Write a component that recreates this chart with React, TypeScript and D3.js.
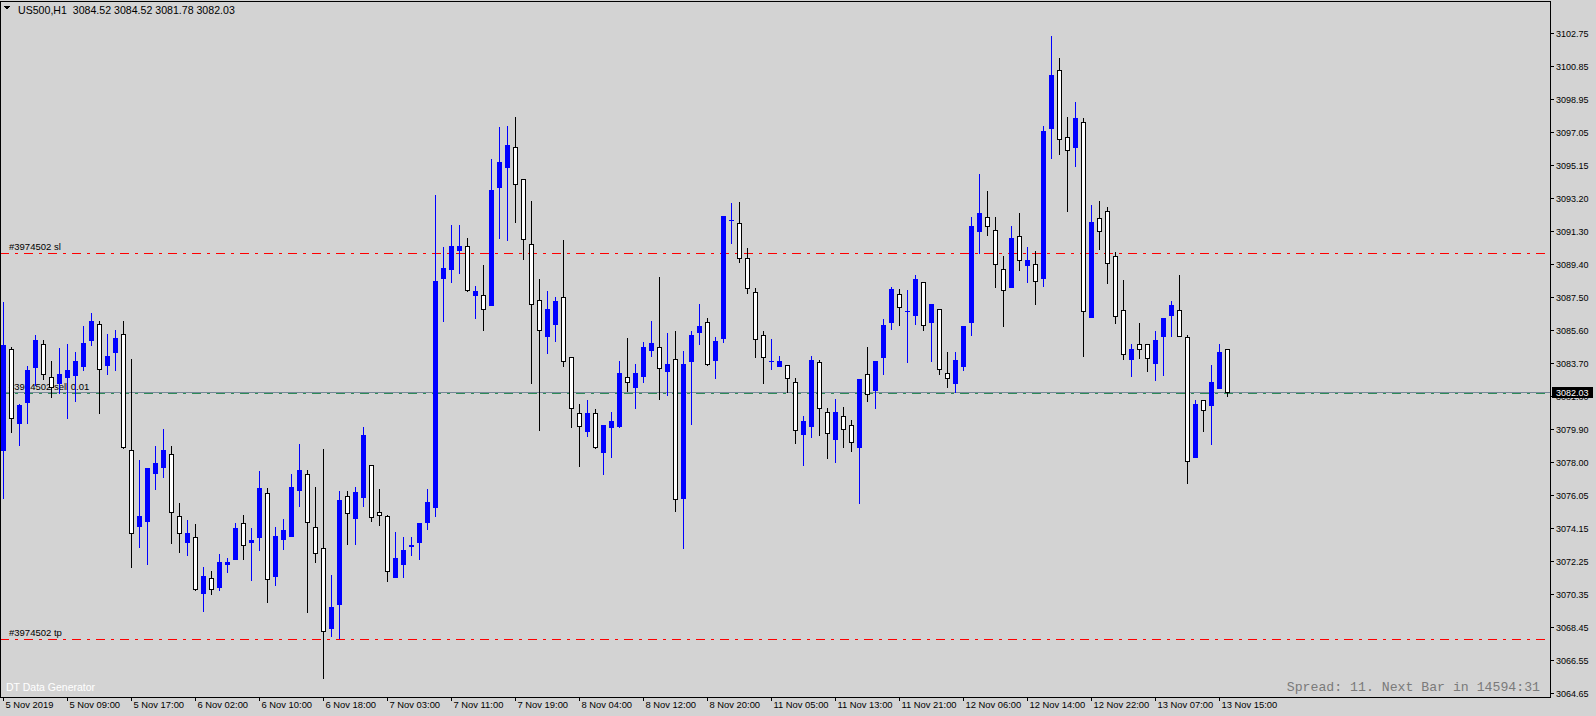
import React from "react";
import * as d3 from "d3";

const W = 1596;
const H = 716;

// ---- data (US500, H1) ----
const opens = [
  3078.67, 3084.48, 3080.24, 3081.46, 3083.44, 3084.79, 3082.87, 3082.52, 3082.90, 3083.00,
  3083.52, 3085.02, 3085.94, 3083.59, 3084.35, 3085.37, 3078.67, 3074.30, 3074.59, 3077.36,
  3077.66, 3078.44, 3074.86, 3073.37, 3073.63, 3070.40, 3071.26, 3070.78, 3072.11, 3072.39,
  3074.44, 3073.36, 3073.66, 3076.17, 3071.41, 3073.55, 3073.72, 3076.38, 3077.28, 3074.22,
  3072.99, 3068.41, 3069.79, 3076.00, 3074.76, 3075.97, 3077.79, 3075.07, 3074.84, 3071.35,
  3072.11, 3073.13, 3073.37, 3074.53, 3075.39, 3088.62, 3089.14, 3090.23, 3090.45, 3087.64,
  3087.60, 3087.06, 3093.87, 3095.03, 3096.15, 3094.30, 3090.55, 3087.31, 3085.27, 3085.96,
  3087.48, 3084.02, 3080.79, 3079.78, 3080.79, 3078.57, 3079.98, 3080.05, 3082.87, 3082.32,
  3082.96, 3084.46, 3084.60, 3083.25, 3083.91, 3075.91, 3083.82, 3085.50, 3086.04, 3083.88,
  3085.15, 3091.92, 3091.76, 3089.75, 3087.77, 3085.29, 3083.80, 3083.54, 3083.56, 3082.58,
  3079.58, 3080.07, 3083.73, 3080.85, 3079.32, 3080.61, 3080.09, 3078.86, 3083.04, 3082.13,
  3084.06, 3086.08, 3087.66, 3086.67, 3086.48, 3088.35, 3086.08, 3086.79, 3083.10, 3082.55,
  3083.54, 3086.08, 3091.33, 3092.10, 3091.35, 3089.10, 3088.10, 3091.01, 3089.37, 3089.39,
  3088.62, 3097.28, 3100.59, 3096.72, 3096.18, 3097.59, 3086.36, 3092.05, 3092.45, 3089.87,
  3086.75, 3083.92, 3084.77, 3084.77, 3083.69, 3085.25, 3086.46, 3086.73, 3085.18, 3078.28,
  3081.54, 3081.28, 3082.27, 3084.52,
];
const highs = [
  3087.23, 3084.62, 3081.30, 3083.52, 3085.31, 3085.02, 3083.81, 3084.54, 3084.79, 3084.35,
  3085.85, 3086.60, 3086.10, 3085.37, 3085.60, 3086.12, 3083.92, 3078.09, 3077.65, 3078.90,
  3079.88, 3078.90, 3075.59, 3074.63, 3074.40, 3071.91, 3071.68, 3072.66, 3072.43, 3074.44,
  3074.92, 3074.16, 3077.46, 3076.47, 3074.24, 3074.68, 3077.28, 3079.02, 3077.51, 3076.53,
  3078.73, 3071.45, 3076.30, 3076.30, 3076.51, 3080.00, 3077.80, 3076.42, 3074.92, 3073.93,
  3073.65, 3073.65, 3074.47, 3076.42, 3093.39, 3090.39, 3091.66, 3091.66, 3090.91, 3088.14,
  3089.35, 3095.47, 3097.32, 3097.38, 3097.90, 3094.32, 3093.04, 3088.54, 3087.85, 3087.50,
  3090.79, 3084.04, 3081.32, 3081.56, 3081.04, 3080.13, 3080.86, 3083.81, 3085.14, 3083.63,
  3084.90, 3086.12, 3088.66, 3085.42, 3085.54, 3084.38, 3085.54, 3087.10, 3086.29, 3085.18,
  3092.20, 3092.93, 3093.00, 3090.33, 3088.00, 3085.52, 3085.08, 3084.10, 3083.58, 3082.81,
  3080.63, 3084.10, 3083.87, 3081.08, 3081.61, 3081.15, 3080.38, 3082.77, 3084.60, 3083.83,
  3086.23, 3088.08, 3087.96, 3087.91, 3088.77, 3088.37, 3087.12, 3086.81, 3084.33, 3084.33,
  3085.85, 3092.12, 3094.60, 3093.62, 3092.10, 3089.87, 3091.60, 3092.33, 3090.39, 3090.14,
  3097.38, 3102.57, 3101.30, 3097.88, 3098.76, 3097.84, 3092.81, 3093.04, 3092.70, 3090.10,
  3088.48, 3084.79, 3086.00, 3084.79, 3085.56, 3086.29, 3087.27, 3088.77, 3085.29, 3081.56,
  3081.56, 3083.58, 3084.79, 3084.52,
];
const lows = [
  3075.90, 3079.72, 3078.96, 3080.24, 3082.42, 3082.75, 3081.75, 3081.94, 3080.53, 3081.51,
  3083.29, 3084.73, 3080.82, 3083.06, 3083.29, 3078.80, 3071.93, 3073.09, 3072.11, 3076.43,
  3077.13, 3073.32, 3072.80, 3072.62, 3070.60, 3069.39, 3070.37, 3070.59, 3071.64, 3072.37,
  3072.39, 3071.18, 3072.91, 3069.91, 3070.87, 3072.95, 3073.70, 3075.44, 3069.30, 3072.20,
  3065.49, 3067.95, 3067.83, 3073.26, 3073.26, 3075.44, 3074.59, 3074.34, 3071.12, 3071.33,
  3071.35, 3072.62, 3072.39, 3074.12, 3074.86, 3086.13, 3088.39, 3088.91, 3087.87, 3086.29,
  3085.62, 3087.04, 3090.93, 3090.79, 3091.85, 3089.71, 3082.55, 3079.84, 3084.29, 3084.98,
  3083.54, 3080.01, 3077.76, 3079.49, 3078.80, 3077.30, 3078.28, 3080.00, 3082.06, 3081.11,
  3082.61, 3084.11, 3081.63, 3081.86, 3075.16, 3073.03, 3080.19, 3084.81, 3083.60, 3082.84,
  3084.90, 3090.64, 3089.52, 3087.75, 3084.02, 3082.52, 3083.33, 3083.52, 3082.03, 3079.06,
  3077.82, 3079.44, 3079.55, 3078.22, 3077.99, 3078.86, 3078.63, 3075.63, 3081.51, 3081.11,
  3083.07, 3085.67, 3085.90, 3083.77, 3085.96, 3085.62, 3083.82, 3083.07, 3082.32, 3082.03,
  3083.29, 3085.33, 3090.03, 3091.10, 3088.10, 3085.85, 3088.08, 3089.08, 3088.39, 3087.12,
  3088.15, 3095.54, 3095.76, 3092.49, 3095.08, 3084.11, 3086.34, 3090.29, 3088.33, 3085.98,
  3083.92, 3082.94, 3084.00, 3083.23, 3082.71, 3083.00, 3085.25, 3085.25, 3076.78, 3078.26,
  3079.78, 3079.03, 3082.25, 3081.78,
];
const closes = [
  3084.73, 3080.50, 3081.27, 3083.29, 3085.02, 3083.04, 3082.29, 3083.06, 3083.29, 3083.81,
  3084.86, 3086.12, 3083.33, 3084.10, 3085.14, 3078.83, 3073.88, 3074.86, 3077.63, 3077.92,
  3078.67, 3075.07, 3073.88, 3073.90, 3070.63, 3071.39, 3070.63, 3072.20, 3072.22, 3074.16,
  3073.17, 3073.47, 3076.49, 3071.20, 3073.70, 3074.05, 3076.51, 3077.51, 3074.49, 3072.70,
  3068.20, 3069.60, 3075.78, 3075.01, 3076.24, 3079.53, 3074.82, 3074.90, 3071.67, 3072.42,
  3072.89, 3073.17, 3074.45, 3075.67, 3088.43, 3089.18, 3090.45, 3090.45, 3087.89, 3087.85,
  3086.83, 3093.68, 3095.30, 3096.28, 3094.01, 3090.83, 3087.08, 3085.58, 3086.81, 3087.27,
  3083.79, 3081.08, 3080.04, 3080.79, 3078.82, 3080.11, 3080.34, 3083.11, 3082.58, 3083.11,
  3084.62, 3084.85, 3083.39, 3083.63, 3075.82, 3083.63, 3085.31, 3085.83, 3083.62, 3084.94,
  3092.18, 3091.94, 3089.74, 3088.00, 3085.06, 3084.02, 3083.82, 3083.81, 3082.81, 3079.81,
  3080.34, 3083.87, 3081.08, 3079.63, 3080.85, 3079.86, 3079.11, 3082.75, 3081.88, 3083.81,
  3085.89, 3087.96, 3086.91, 3086.70, 3088.54, 3085.87, 3087.10, 3083.33, 3082.81, 3083.87,
  3085.83, 3091.60, 3092.35, 3091.58, 3089.39, 3087.88, 3090.91, 3089.62, 3089.64, 3088.41,
  3097.09, 3100.32, 3096.61, 3095.97, 3097.84, 3086.68, 3091.83, 3091.30, 3089.45, 3086.42,
  3084.23, 3084.50, 3084.48, 3084.00, 3085.02, 3086.27, 3087.04, 3085.27, 3078.05, 3081.32,
  3081.00, 3082.59, 3084.33, 3082.03,
];

const priceTickLabels = [
  "3102.75", "3100.85", "3098.95", "3097.05", "3095.15", "3093.20", "3091.30", "3089.40",
  "3087.50", "3085.60", "3083.70", "3081.80", "3079.90", "3078.00", "3076.05", "3074.15",
  "3072.25", "3070.35", "3068.45", "3066.55", "3064.65",
];

const timeTickLabels = [
  "5 Nov 2019", "5 Nov 09:00", "5 Nov 17:00", "6 Nov 02:00", "6 Nov 10:00", "6 Nov 18:00",
  "7 Nov 03:00", "7 Nov 11:00", "7 Nov 19:00", "8 Nov 04:00", "8 Nov 12:00", "8 Nov 20:00",
  "11 Nov 05:00", "11 Nov 13:00", "11 Nov 21:00", "12 Nov 06:00", "12 Nov 14:00",
  "12 Nov 22:00", "13 Nov 07:00", "13 Nov 15:00",
];
const timeTickBars = [0, 8, 16, 24, 32, 40, 48, 56, 64, 72, 80, 88, 96, 104, 112, 120, 128, 136, 144, 152];

const symbolTitle = "US500,H1  3084.52 3084.52 3081.78 3082.03";
const bidPrice = 3082.03;
const orderOpen = 3081.95;
const slPrice = 3090.04;
const tpPrice = 3067.74;
const orderLabel = "#3974502 sell 0.01";
const slLabel = "#3974502 sl";
const tpLabel = "#3974502 tp";
const spreadText = "Spread: 11. Next Bar in 14594:31";
const brandText = "DT Data Generator";

// ---- style ----
const BG = "#d3d3d3";
const BULL = "#0000ff";
const FONT = "'Liberation Sans', Arial, sans-serif";

export default function App() {
  const plotRight = 1550;
  const plotTop = 1;
  const plotBottom = 697;

  const y = d3.scaleLinear().domain([3064.65, 3102.75]).range([692.7, 32.9]);
  const x = d3.scaleLinear().domain([0, 1]).range([3, 11]);

  const py = (v: number) => Math.round(y(v));

  const candles = opens.map((o, i) => {
    const c = closes[i];
    const hi = highs[i];
    const lo = lows[i];
    const col = Math.round(x(i));
    const bull = c >= o;
    const top = py(Math.max(o, c));
    const bot = py(Math.min(o, c));
    const wick = (
      <line
        key={`w${i}`}
        x1={col + 0.5}
        x2={col + 0.5}
        y1={py(hi)}
        y2={py(lo) + 1}
        stroke={bull ? BULL : "#000"}
        strokeWidth={1}
      />
    );
    const body = bull ? (
      <rect key={`b${i}`} x={col - 2} y={top} width={5} height={Math.max(bot - top + 1, 1)} fill={BULL} />
    ) : (
      <rect
        key={`b${i}`}
        x={col - 1.5}
        y={top + 0.5}
        width={4}
        height={Math.max(bot - top, 1)}
        fill="#fff"
        stroke="#000"
        strokeWidth={1}
      />
    );
    return (
      <g key={i}>
        {wick}
        {body}
      </g>
    );
  });

  const bidY = py(bidPrice) + 0.5;
  const orderY = py(orderOpen) + 0.5;
  const slY = py(slPrice) + 0.5;
  const tpY = py(tpPrice) + 0.5;

  return (
    <svg
      width={W}
      height={H}
      style={{ position: "absolute", left: 0, top: 0, display: "block" }}
      shapeRendering="crispEdges"
    >
      <rect x={0} y={0} width={W} height={H} fill={BG} />

      {/* trade level labels (behind candles) */}
      <g fontFamily={FONT} fontSize={9.5} fill="#000">
        <text x={9} y={slY - 4}>{slLabel}</text>
        <text x={9} y={orderY - 4}>{orderLabel}</text>
        <text x={9} y={tpY - 4}>{tpLabel}</text>
      </g>

      {/* level lines */}
      <line x1={0} x2={plotRight} y1={slY} y2={slY} stroke="#ff0000" strokeDasharray="9,6,3,6" />
      <line x1={0} x2={plotRight} y1={tpY} y2={tpY} stroke="#ff0000" strokeDasharray="9,6,3,6" />
      <line x1={0} x2={plotRight} y1={orderY} y2={orderY} stroke="#2e8b57" strokeDasharray="9,6,3,6" />
      <line x1={0} x2={plotRight} y1={bidY} y2={bidY} stroke="#778899" />

      {/* candles */}
      <g>{candles}</g>

      {/* texts inside plot */}
      <text x={6} y={691} fontFamily={FONT} fontSize={10.5} fill="#fff">{brandText}</text>
      <text
        x={1540}
        y={691}
        textAnchor="end"
        fontFamily="'Liberation Mono', 'Courier New', monospace"
        fontSize={13.2}
        fill="#7a7a7a"
        style={{ whiteSpace: "pre" }}
      >
        {spreadText}
      </text>

      {/* frame */}
      <rect
        x={0.5}
        y={plotTop + 0.5}
        width={plotRight - 0.5}
        height={plotBottom - plotTop}
        fill="none"
        stroke="#000"
      />

      {/* header */}
      <path d="M4,6 L10,6 L7,10 Z" fill="#000" />
      <text x={18} y={14} fontFamily={FONT} fontSize={10.6} fill="#000" style={{ whiteSpace: "pre" }}>
        {symbolTitle}
      </text>

      {/* price axis */}
      <g fontFamily={FONT} fontSize={9} fill="#000">
        {priceTickLabels.map((t) => {
          const yy = py(+t) + 0.5;
          return (
            <g key={t}>
              <line x1={plotRight} x2={plotRight + 4} y1={yy} y2={yy} stroke="#000" />
              <text x={plotRight + 6} y={yy + 3.5}>{t}</text>
            </g>
          );
        })}
      </g>

      {/* bid label */}
      <rect x={1552} y={bidY - 5.5} width={41} height={11} fill="#000" />
      <text x={1556} y={bidY + 3.5} fontFamily={FONT} fontSize={9} fill="#fff">
        {bidPrice.toFixed(2)}
      </text>

      {/* time axis */}
      <g fontFamily={FONT} fontSize={9.4} fill="#000">
        {timeTickLabels.map((t, k) => {
          const xx = Math.round(x(timeTickBars[k])) + 0.5;
          return (
            <g key={t}>
              <line x1={xx} x2={xx} y1={plotBottom} y2={plotBottom + 4} stroke="#000" />
              <text x={xx + 2} y={plotBottom + 11}>{t}</text>
            </g>
          );
        })}
      </g>
    </svg>
  );
}
